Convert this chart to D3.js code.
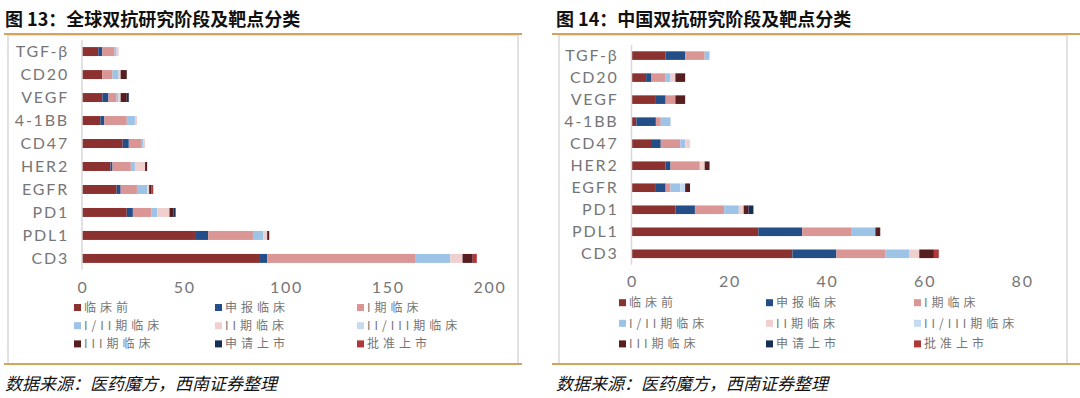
<!DOCTYPE html>
<html>
<head>
<meta charset="utf-8">
<script src="https://cdn.jsdelivr.net/npm/d3@7"></script>
<style>
  body { margin: 0; background: #fff; }
  svg { display: block; }
</style>
</head>
<body>
<div id="chart"></div>
<script>
// targets, top to bottom
const categories = ["TGF-β", "CD20", "VEGF", "4-1BB", "CD47", "HER2", "EGFR", "PD1", "PDL1", "CD3"];
// research stages (stack order)
const stages = ["临床前", "申报临床", "I期临床", "I/II期临床", "II期临床", "II/III期临床", "III期临床", "申请上市", "批准上市"];
const stageColors = ["#8B3130", "#244E87", "#D99694", "#9DC3E6", "#F0D0CF", "#C5DAF0", "#561E1E", "#172F55", "#B03838"];

// counts per target, one row per category, one column per stage
const globalCounts = [
  [8, 2, 6, 1, 1, 0, 0, 0, 0],
  [10, 0, 5, 3, 1, 0, 3, 0, 0],
  [10, 3, 4, 1, 1, 0, 3, 1, 0],
  [9, 2, 11, 4, 1, 0, 0, 0, 0],
  [20, 3, 6, 1, 1, 0, 0, 0, 0],
  [14, 1, 9, 2, 5, 0, 1, 0, 0],
  [17, 2, 8, 5, 1, 0, 1, 0, 1],
  [22, 3, 9, 3, 6, 0, 2, 1, 0],
  [56, 6, 22, 5, 2, 0, 1, 0, 0],
  [87, 4, 73, 17, 6, 0, 5, 0, 2]
];
const chinaCounts = [
  [7, 4, 4, 1, 0, 0, 0, 0, 0],
  [3, 1, 3, 1, 1, 0, 2, 0, 0],
  [5, 2, 2, 0, 0, 0, 2, 0, 0],
  [1, 4, 1, 2, 0, 0, 0, 0, 0],
  [4, 2, 4, 1, 1, 0, 0, 0, 0],
  [7, 1, 6, 0, 1, 0, 1, 0, 0],
  [5, 2, 1, 2, 0, 1, 1, 0, 0],
  [9, 4, 6, 3, 1, 0, 1, 1, 0],
  [26, 9, 10, 5, 0, 0, 1, 0, 0],
  [33, 9, 10, 5, 2, 0, 3, 0, 1]
];
const globalTicks = [0, 50, 100, 150, 200];
const chinaTicks = [0, 20, 40, 60, 80];

const width = 1080;
const height = 398;
const svg = d3.select("#chart").append("svg")
  .attr("width", width)
  .attr("height", height);

const cjk = "'Noto Sans CJK SC', sans-serif";
const latin = "Lato, 'Noto Sans', sans-serif";

function drawPanel(p) {
  const g = svg.append("g");

  // title + frame
  g.append("text")
    .attr("x", p.titleX).attr("y", 26)
    .attr("font-family", cjk).attr("font-weight", "bold")
    .attr("font-size", 18).attr("fill", "#111")
    .text(p.title);
  g.append("rect")
    .attr("x", p.box[0]).attr("y", p.box[1])
    .attr("width", p.box[2] - p.box[0]).attr("height", p.box[3] - p.box[1])
    .attr("fill", "none").attr("stroke", "#d9d9d9").attr("stroke-width", 1.5);
  [34, p.box[3]].forEach(y => {
    g.append("line")
      .attr("x1", p.lineX[0]).attr("x2", p.lineX[1])
      .attr("y1", y).attr("y2", y)
      .attr("stroke", "#D6A25C").attr("stroke-width", 2);
  });
  g.append("text")
    .attr("x", p.titleX).attr("y", 390)
    .attr("font-family", cjk).attr("font-style", "italic")
    .attr("font-size", 17).attr("fill", "#111")
    .text("数据来源：医药魔方，西南证券整理");

  const x = d3.scaleLinear().domain(d3.extent(p.ticks)).range(p.xRange);
  const y = d3.scaleBand().domain(categories).range(p.yRange).paddingInner(0.61).paddingOuter(0.3);

  // stacked bars
  const rows = p.counts.map((c, i) => {
    const r = { cat: categories[i] };
    stages.forEach((s, j) => { r[s] = c[j]; });
    return r;
  });
  const series = d3.stack().keys(stages)(rows);
  g.selectAll("g.layer")
    .data(series)
    .enter().append("g")
    .attr("class", "layer")
    .attr("fill", (d, i) => stageColors[i])
    .selectAll("rect")
    .data(d => d.filter(v => v[1] > v[0]))
    .enter().append("rect")
    .attr("x", d => x(d[0]))
    .attr("width", d => x(d[1]) - x(d[0]))
    .attr("y", d => y(d.data.cat))
    .attr("height", y.bandwidth());

  // category axis
  g.append("line")
    .attr("x1", x(0)).attr("x2", x(0))
    .attr("y1", p.yRange[0]).attr("y2", p.yRange[1])
    .attr("stroke", "#d9d9d9").attr("stroke-width", 1.5);
  g.selectAll("text.cat")
    .data(categories)
    .enter().append("text")
    .attr("class", "cat")
    .attr("x", x(0) - 13)
    .attr("y", d => y(d) + y.bandwidth() / 2)
    .attr("dy", "0.35em")
    .attr("text-anchor", "end")
    .attr("font-family", latin).attr("font-size", 16)
    .attr("letter-spacing", 1.8)
    .attr("fill", "#767676")
    .text(d => d);

  // value axis labels
  g.selectAll("text.tick")
    .data(p.ticks)
    .enter().append("text")
    .attr("class", "tick")
    .attr("x", d => x(d) + 1)
    .attr("y", p.xLabelY)
    .attr("dy", "0.35em")
    .attr("text-anchor", "middle")
    .attr("font-family", latin).attr("font-size", 16)
    .attr("letter-spacing", 1.8)
    .attr("fill", "#767676")
    .text(d => d);

  // legend, 3 columns
  const leg = g.selectAll("g.leg")
    .data(stages)
    .enter().append("g")
    .attr("class", "leg")
    .attr("transform", (d, i) => `translate(${p.legendX[i % 3]},${p.legendY[Math.floor(i / 3)]})`);
  leg.append("rect")
    .attr("x", 0).attr("y", -3.5)
    .attr("width", 7).attr("height", 7)
    .attr("fill", (d, i) => stageColors[i]);
  leg.append("text")
    .attr("x", 10).attr("dy", "0.36em")
    .attr("font-family", cjk).attr("font-size", 12)
    .attr("letter-spacing", 4)
    .attr("fill", "#767676")
    .text(d => d);
}

drawPanel({
  title: "图 13：全球双抗研究阶段及靶点分类",
  titleX: 5,
  lineX: [4, 522],
  box: [8, 35, 518, 364],
  counts: globalCounts,
  ticks: globalTicks,
  xRange: [82, 489],
  yRange: [40.2, 269.8],
  xLabelY: 287,
  legendX: [74, 215, 357],
  legendY: [307.5, 325.7, 343.9]
});

drawPanel({
  title: "图 14：中国双抗研究阶段及靶点分类",
  titleX: 556,
  lineX: [552, 1080],
  box: [559, 35, 1067, 364],
  counts: chinaCounts,
  ticks: chinaTicks,
  xRange: [631.5, 1021.7],
  yRange: [44.7, 264.7],
  xLabelY: 281,
  legendX: [619, 766, 914],
  legendY: [302.7, 323.3, 343.9]
});
</script>
</body>
</html>
